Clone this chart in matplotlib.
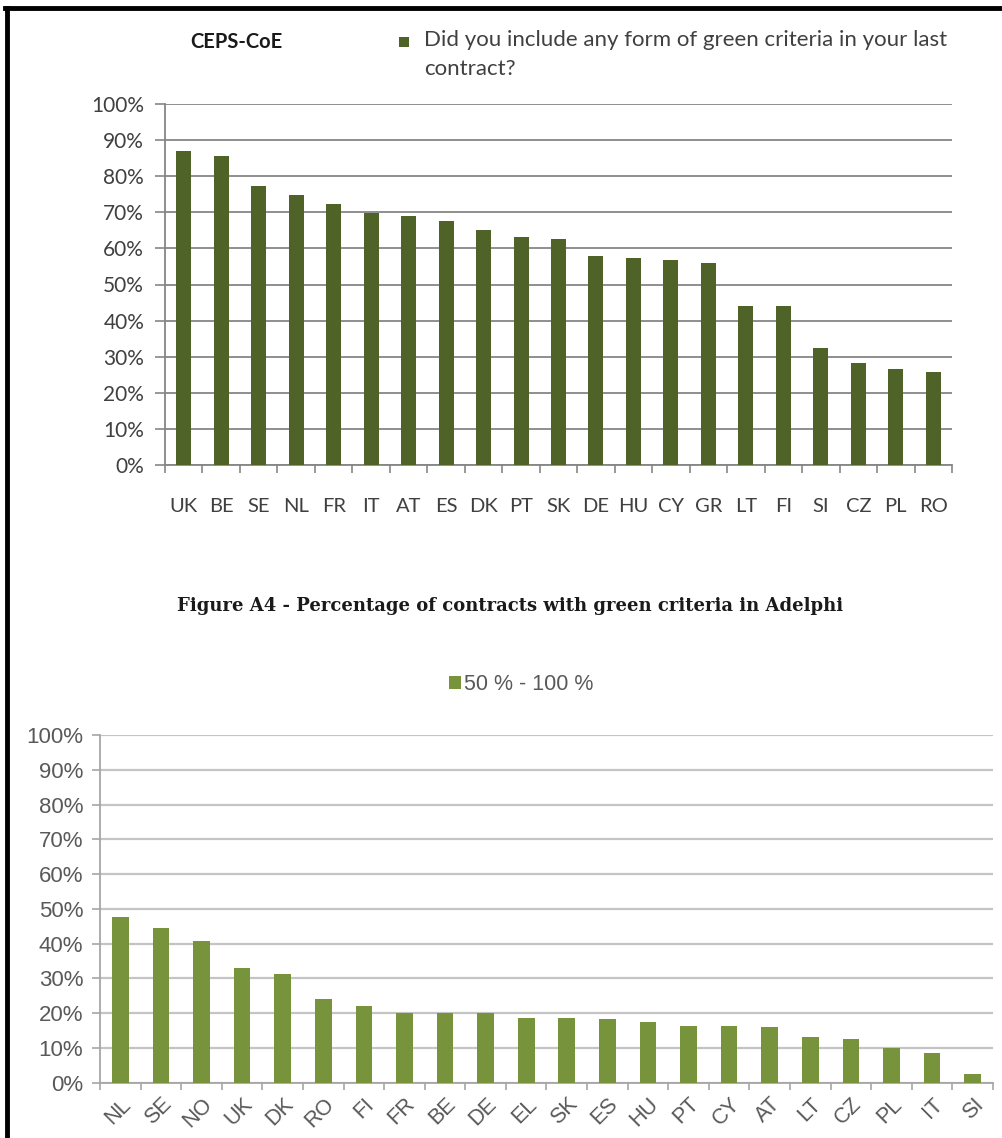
import matplotlib as mpl
mpl.use('Agg')
import matplotlib.pyplot as plt
from matplotlib.lines import Line2D
from matplotlib.patches import Rectangle
import matplotlib.transforms as mtransforms
import numpy as np

# CEPS-CoE survey (top chart)
ceps_countries = ['UK', 'BE', 'SE', 'NL', 'FR', 'IT', 'AT', 'ES', 'DK', 'PT', 'SK',
                  'DE', 'HU', 'CY', 'GR', 'LT', 'FI', 'SI', 'CZ', 'PL', 'RO']
ceps_values = [87.1, 85.6, 77.4, 74.8, 72.2, 69.9, 69.1, 67.7, 65.1, 63.1, 62.6,
               57.9, 57.4, 56.8, 55.9, 44.0, 44.0, 32.3, 28.2, 26.7, 25.7]
ceps_legend = 'Did you include any form of green criteria in your last\ncontract?'

# Adelphi survey (bottom chart)
adelphi_countries = ['NL', 'SE', 'NO', 'UK', 'DK', 'RO', 'FI', 'FR', 'BE', 'DE', 'EL',
                     'SK', 'ES', 'HU', 'PT', 'CY', 'AT', 'LT', 'CZ', 'PL', 'IT', 'SI']
adelphi_values = [47.7, 44.6, 40.8, 33.1, 31.2, 24.0, 22.1, 20.1, 20.1, 20.1, 18.7,
                  18.7, 18.3, 17.5, 16.4, 16.4, 16.0, 13.2, 12.6, 9.9, 8.4, 2.4]
adelphi_legend = '50 % - 100 %'

yticks = list(range(0, 101, 10))
ylabels = ['%d%%' % v for v in yticks]

W, H = 1003, 1138
fig = plt.figure(figsize=(W / 100, H / 100), dpi=100)
fig.patch.set_facecolor('white')

def fx(px):
    return px / W

def fy(py):
    return 1 - py / H

# ---------------- top chart ----------------
top_font = 'Lato'
ax1 = fig.add_axes([fx(165), fy(465), fx(952 - 165), (465 - 104) / H])
x1 = np.arange(len(ceps_countries))
ax1.bar(x1, ceps_values, width=0.4, color='#4F6228', zorder=3)
ax1.set_xlim(-0.5, len(ceps_countries) - 0.5)
ax1.set_ylim(0, 100)
ax1.set_yticks(yticks)
ax1.set_yticklabels(ylabels, fontfamily=top_font, fontsize=15, color='#404040')
ax1.set_xticks(x1)
ax1.set_xticklabels(ceps_countries, fontfamily=top_font, fontsize=14.5, color='#404040')
ax1.set_xticks(np.arange(-0.5, len(ceps_countries)), minor=True)
ax1.tick_params(axis='x', which='major', length=0, pad=24)
ax1.tick_params(axis='x', which='minor', length=6, color='#868686', width=1.2, direction='out')
ax1.tick_params(axis='y', length=7, color='#868686', width=1.2, pad=8)
ax1.grid(axis='y', color='#868686', linewidth=1.3, zorder=0)
for s in ['top', 'right']:
    ax1.spines[s].set_visible(False)
for s in ['left', 'bottom']:
    ax1.spines[s].set_color('#868686')
    ax1.spines[s].set_linewidth(1.3)

fig.text(fx(190), fy(42), 'CEPS-CoE', fontfamily=top_font, fontsize=14.5,
         fontweight='bold', color='#1a1a1a', va='center', ha='left')
fig.patches.append(Rectangle((fx(399), fy(47)), fx(10), 10 / H, transform=fig.transFigure,
                             facecolor='#4F6228', edgecolor='none'))
fig.text(fx(424), fy(30), ceps_legend, fontfamily=top_font, fontsize=16,
         color='#404040', va='top', ha='left', linespacing=1.55)

# ---------------- caption ----------------
fig.text(fx(510), fy(606), 'Figure A4 - Percentage of contracts with green criteria in Adelphi',
         fontfamily='DejaVu Serif', fontsize=13, fontweight='bold', color='#1a1a1a',
         ha='center', va='center')

# ---------------- bottom chart ----------------
bot_font = 'Liberation Sans'
ax2 = fig.add_axes([fx(100), fy(1082.7), fx(993 - 100), (1082.7 - 735) / H])
x2 = np.arange(len(adelphi_countries))
ax2.bar(x2, adelphi_values, width=0.41, color='#77933C', zorder=3, label=adelphi_legend)
ax2.set_xlim(-0.5, len(adelphi_countries) - 0.5)
ax2.set_ylim(0, 100)
ax2.set_yticks(yticks)
ax2.set_yticklabels(ylabels, fontfamily=bot_font, fontsize=16, color='#595959')
ax2.set_xticks(x2)
ax2.set_xticklabels(adelphi_countries, fontfamily=bot_font, fontsize=15.5, color='#595959',
                    rotation=45, ha='right', rotation_mode='anchor')
offset = mtransforms.ScaledTranslation(8 / 72, 0, fig.dpi_scale_trans)
for lab in ax2.get_xticklabels():
    lab.set_transform(lab.get_transform() + offset)
ax2.set_xticks(np.arange(-0.5, len(adelphi_countries)), minor=True)
ax2.tick_params(axis='x', which='major', length=0, pad=8)
ax2.tick_params(axis='x', which='minor', length=5, color='#a6a6a6', width=1.2, direction='out')
ax2.tick_params(axis='y', length=6, color='#a6a6a6', width=1.2, pad=6)
ax2.grid(axis='y', color='#c4c4c4', linewidth=1.6, zorder=0)
for s in ['top', 'right']:
    ax2.spines[s].set_visible(False)
for s in ['left', 'bottom']:
    ax2.spines[s].set_color('#a6a6a6')
    ax2.spines[s].set_linewidth(1.3)

ax2.legend(loc='center', bbox_to_anchor=(fx(521), fy(685)), bbox_transform=fig.transFigure,
           frameon=False, handlelength=0.55, handleheight=0.55, handletextpad=0.15,
           prop={'family': bot_font, 'size': 15.5}, labelcolor='#595959')

# ---------------- page border ----------------
fig.add_artist(Line2D([fx(5), 1], [fy(8), fy(8)], color='black', linewidth=3.5,
                      transform=fig.transFigure))
fig.add_artist(Line2D([fx(7), fx(7)], [fy(8), 0], color='black', linewidth=3.5,
                      transform=fig.transFigure))

fig.savefig('out.png', dpi=100)
